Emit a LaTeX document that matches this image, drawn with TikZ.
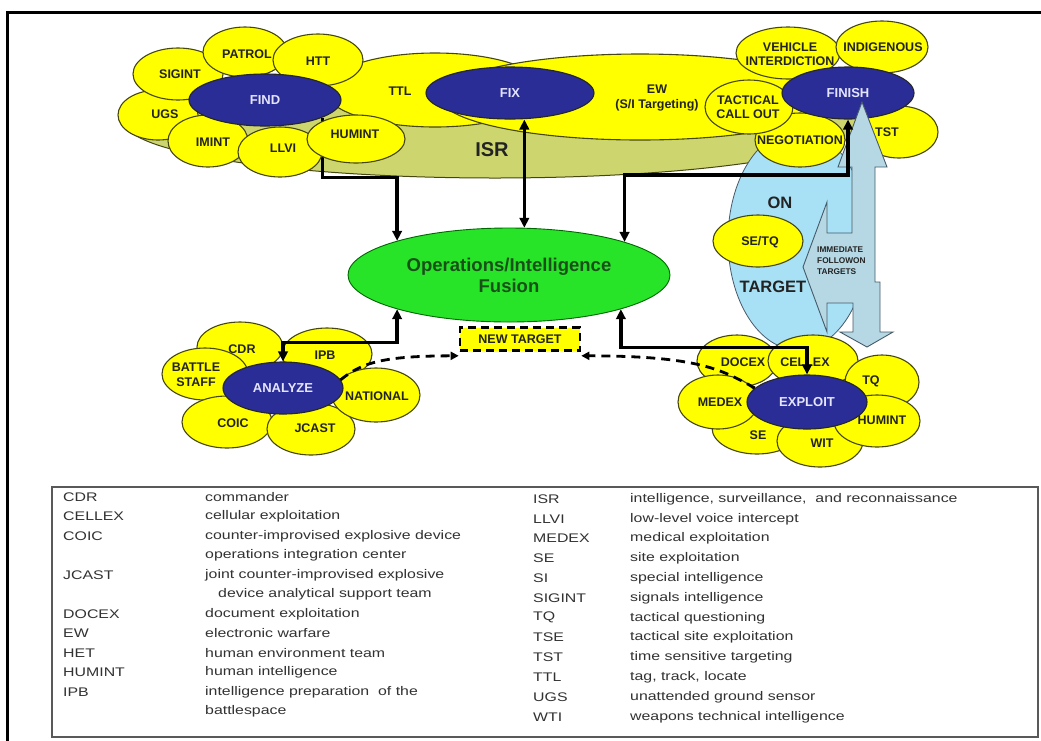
\documentclass[tikz,border=0pt]{standalone}
\usepackage{fontspec}
\setmainfont{Liberation Sans}
\newfontfamily\legfont{Liberation Sans}[FakeStretch=1.27]
\usetikzlibrary{arrows.meta,shapes.geometric}
\definecolor{yelc}{RGB}{255,255,0}
\definecolor{navyc}{RGB}{42,45,150}
\definecolor{edgec}{RGB}{70,70,20}
\definecolor{isrc}{RGB}{205,214,110}
\definecolor{skyc}{RGB}{168,224,245}
\definecolor{arrc}{RGB}{182,216,228}
\definecolor{arredge}{RGB}{70,90,105}
\definecolor{fusc}{RGB}{40,228,40}
\definecolor{fustxt}{RGB}{25,80,25}
\definecolor{lblc}{RGB}{35,35,35}
\definecolor{btxtc}{RGB}{228,228,255}
\definecolor{legc}{RGB}{50,50,50}
\tikzset{
  sz/.style 2 args={minimum width=#1pt, minimum height=#2pt},
  yflower/.style={ellipse, draw=edgec, line width=1.1pt, fill=yelc, inner sep=0pt},
  bflower/.style={ellipse, draw=black!85, line width=1.1pt, fill=navyc, inner sep=0pt,
     font=\bfseries\fontsize{13}{14}\selectfont, text=btxtc},
  ytx/.style={inner sep=0pt, align=center, text=lblc, font=\bfseries\fontsize{12.5}{14.5}\selectfont},
  bigtx/.style={inner sep=0pt, text=lblc, font=\bfseries\fontsize{16.5}{18}\selectfont},
  conn/.style={line width=3.4pt, -{Triangle[length=10pt,width=9.5pt]}},
  dconn/.style={line width=3.4pt, {Triangle[length=10pt,width=9.5pt]}-{Triangle[length=10pt,width=9.5pt]}},
  dashconn/.style={line width=2.8pt, dash pattern=on 9pt off 6pt, -{Triangle[length=8pt,width=8pt]}},
  legtx/.style={anchor=west, inner sep=0pt, text=legc, font=\legfont\fontsize{12.5}{14}\selectfont},
}
\newcommand{\yfl}[8]{%
  \node[yflower, sz={#4}{#5}] (#1) at (#2,#3) {};
  \node[ytx] (#1t) at (#6,#7) {#8};}
\newcommand{\bfl}[6]{%
  \node[bflower, sz={#4}{#5}] (#1) at (#2,#3) {#6};}
\begin{document}
\begin{tikzpicture}[x=1pt,y=-1pt]
\useasboundingbox (0,0) rectangle (1041,740);
\fill[white] (0,0) rectangle (1041,740);
\draw[line width=3pt] (7,760) -- (7,12) -- (1060,12);

% ISR and ON TARGET backgrounds
\node[ellipse, fill=isrc, draw=edgec, line width=1pt, sz={740}{112}] (isr) at (495,122) {};
\node[ellipse, fill=skyc, draw=arredge, line width=0.8pt, sz={140}{220}] (ontgt) at (798,240) {};

% fusion
\node[ellipse, fill=fusc, draw=black!60!green, line width=0.9pt, sz={322}{94}, inner sep=0pt,
  align=center, text=fustxt, font=\bfseries\fontsize{18.5}{21}\selectfont] (fusion) at (509,275)
  {Operations/Intelligence\\Fusion};

% TTL / EW
\yfl{ttl}{435}{90}{220}{74}{400}{91}{TTL}
\node[yflower, sz={400}{86}] (ew) at (640,97) {};
\node[ytx] (ewt) at (657,98) {EW\\(S/I Targeting)};
\node[inner sep=0pt, text=lblc, font=\bfseries\fontsize{20}{22}\selectfont] (isrt) at (492,150) {ISR};
\bfl{fix}{510}{93}{168}{52}{FIX}

% FIND cluster
\yfl{ugs}{158}{115}{80}{50}{165}{114}{UGS}
\yfl{sigint}{178}{74}{90}{52}{180}{74}{SIGINT}
\yfl{patrol}{245}{52}{84}{50}{247}{54}{PATROL}
\yfl{htt}{318}{60}{90}{52}{318}{61}{HTT}
\yfl{imint}{208}{141}{80}{52}{213}{142}{IMINT}
\bfl{find}{265}{100}{152}{52}{FIND}
\draw[conn] (find.-17.4) -- ++(0,60) -| (fusion.163);
\yfl{llvi}{280}{152}{84}{50}{283}{148}{LLVI}
\yfl{humt}{356}{139}{98}{48}{355}{134}{HUMINT}

% FINISH cluster
\yfl{vehicle}{788}{53}{104}{52}{790}{54}{VEHICLE\\INTERDICTION}
\yfl{indig}{882}{47}{92}{52}{883}{47}{INDIGENOUS}
\yfl{tst}{899}{132}{78}{52}{887}{132}{TST}
\yfl{negot}{800}{140}{90}{54}{800}{140}{NEGOTIATION}
\yfl{tactical}{749}{107}{88}{54}{748}{107}{TACTICAL\\CALL OUT}
\bfl{finish}{848}{93}{132}{52}{FINISH}

% ON TARGET
\node[bigtx] (ont) at (780,203) {ON};
\node[bigtx] (tgt) at (773,287) {TARGET};
\yfl{setq}{758}{241}{90}{52}{760}{242}{SE/TQ}

% immediate follow-on arrow
\draw[fill=arrc, draw=arredge, line width=0.9pt, line join=miter]
  (862,102) -- (887,167) -- (875,167) -- (875,282) -- (880,282) -- (880,332) -- (893,332)
  -- (867,347) -- (840,332) -- (853,332) -- (853,303) -- (827,303) -- (827,332)
  -- (803,267) -- (827,202) -- (827,233) -- (852,233) -- (852,167) -- (838,167) -- cycle;
\node[anchor=west, inner sep=0pt, align=left, text=lblc, font=\bfseries\fontsize{8.3}{11}\selectfont]
  (follow) at (817,261) {IMMEDIATE\\FOLLOWON\\TARGETS};

% ANALYZE cluster
\yfl{cdr}{240}{347}{86}{50}{242}{349}{CDR}
\yfl{ipb}{327}{354}{90}{52}{325}{355}{IPB}
\yfl{battle}{205}{374}{86}{52}{196}{375}{BATTLE\\STAFF}
\yfl{coic}{227}{422}{90}{52}{233}{423}{COIC}
\yfl{jcast}{311}{429}{88}{52}{315}{428}{JCAST}
\yfl{national}{376}{395}{88}{54}{377}{396}{NATIONAL}
\bfl{analyze}{283}{388}{120}{52}{ANALYZE}

% EXPLOIT cluster
\yfl{docex}{737}{361}{80}{52}{743}{362}{DOCEX}
\yfl{cellex}{813}{361}{90}{52}{805}{362}{CELLEX}
\yfl{tq}{882}{382}{74}{54}{871}{381}{TQ}
\yfl{se}{757}{428}{90}{52}{758}{435}{SE}
\yfl{wit}{820}{441}{86}{52}{822}{443}{WIT}
\yfl{humb}{877}{421}{86}{52}{882}{420}{HUMINT}
\yfl{medex}{718}{402}{80}{54}{720}{402}{MEDEX}
\bfl{exploit}{807}{402}{120}{54}{EXPLOIT}

% connectors
\draw[dconn] (fusion.72.2) -- (fusion.72.2 |- fix.south);
\draw[dconn] (fusion.16.2) -- ++(0,-67) -| (finish.south);
\draw[dconn] (fusion.197) -- ++(0,33) -| (analyze.north);
\draw[dconn] (fusion.343.8) -- ++(0,38) -| (exploit.north);

% new target
\node[draw=black, line width=2.6pt, dash pattern=on 8pt off 5pt, fill=yelc, sz={120}{23}, inner sep=0pt,
  text=lblc, font=\bfseries\fontsize{12.5}{14}\selectfont] (newt) at (520,339) {NEW TARGET};
\draw[dashconn] (analyze.8) .. controls (362,362) and (385,356) .. ([yshift=-4pt]newt.south west);
\draw[dashconn] (exploit.165) .. controls (722,370) and (700,356) .. ([yshift=-4pt]newt.south east);

% legend
\draw[line width=1.2pt, draw=black!65] (52,487) rectangle (1038,737);
\node[legtx] (a1) at (63,497) {CDR};
\node[legtx] (d1) at (205,497) {commander};
\node[legtx] (a2) at (63,516.5) {CELLEX};
\node[legtx] (d2) at (205,516.5) {cellular exploitation};
\node[legtx] (a3) at (63,536) {COIC};
\node[legtx] (d3) at (205,536) {counter-improvised explosive device};
\node[legtx] (d4) at (205,555.5) {operations integration center};
\node[legtx] (a5) at (63,575) {JCAST};
\node[legtx] (d5) at (205,575) {joint counter-improvised explosive};
\node[legtx] (d6) at (218,594.5) {device analytical support team};
\node[legtx] (a7) at (63,614) {DOCEX};
\node[legtx] (d7) at (205,614) {document exploitation};
\node[legtx] (a8) at (63,633.5) {EW};
\node[legtx] (d8) at (205,633.5) {electronic warfare};
\node[legtx] (a9) at (63,653) {HET};
\node[legtx] (d9) at (205,653) {human environment team};
\node[legtx] (a10) at (63,672.5) {HUMINT};
\node[legtx] (d10) at (205,672.5) {human intelligence};
\node[legtx] (a11) at (63,692) {IPB};
\node[legtx] (d11) at (205,692) {intelligence preparation\ \ of the};
\node[legtx] (d12) at (205,711.5) {battlespace};

\node[legtx] (b1) at (533,499) {ISR};
\node[legtx] (e1) at (630,499) {intelligence, surveillance,\ \ and reconnaissance};
\node[legtx] (b2) at (533,518.8) {LLVI};
\node[legtx] (e2) at (630,518.8) {low-level voice intercept};
\node[legtx] (b3) at (533,538.6) {MEDEX};
\node[legtx] (e3) at (630,538.6) {medical exploitation};
\node[legtx] (b4) at (533,558.4) {SE};
\node[legtx] (e4) at (630,558.4) {site exploitation};
\node[legtx] (b5) at (533,578.2) {SI};
\node[legtx] (e5) at (630,578.2) {special intelligence};
\node[legtx] (b6) at (533,598) {SIGINT};
\node[legtx] (e6) at (630,598) {signals intelligence};
\node[legtx] (b7) at (533,617.8) {TQ};
\node[legtx] (e7) at (630,617.8) {tactical questioning};
\node[legtx] (b8) at (533,637.6) {TSE};
\node[legtx] (e8) at (630,637.6) {tactical site exploitation};
\node[legtx] (b9) at (533,657.4) {TST};
\node[legtx] (e9) at (630,657.4) {time sensitive targeting};
\node[legtx] (b10) at (533,677.2) {TTL};
\node[legtx] (e10) at (630,677.2) {tag, track, locate};
\node[legtx] (b11) at (533,697) {UGS};
\node[legtx] (e11) at (630,697) {unattended ground sensor};
\node[legtx] (b12) at (533,716.8) {WTI};
\node[legtx] (e12) at (630,716.8) {weapons technical intelligence};
\end{tikzpicture}
\end{document}
